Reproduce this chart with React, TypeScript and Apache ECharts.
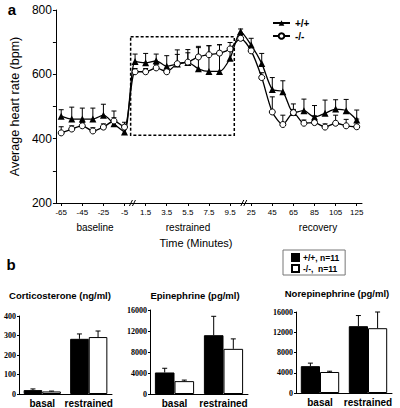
import React, { useEffect, useRef } from "react";
import * as echarts from "echarts";

// ---- Panel a: heart rate over time ----
const timeLabels = [
  "-65", "-55", "-45", "-35", "-25", "-15", "-5",
  "0.5", "1.5", "2.5", "3.5", "4.5", "5.5", "6.5", "7.5", "8.5", "9.5",
  "15", "25", "35", "45", "55", "65", "75", "85", "95", "105", "115", "125",
];
const wtHR = [
  470, 461, 461, 461, 473, 446, 421,
  640, 636, 642, 625, 632, 637, 617, 609, 609, 650,
  733, 691, 634, 553, 546, 481, 487, 467, 479, 492, 487, 458,
];
const wtHRErr = [
  20, 37, 34, 34, 34, 40, 20,
  23, 29, 21, 33, 30, 30, 70, 80, 83, 25,
  8, 21, 31, 37, 34, 27, 36, 36, 41, 29, 35, 31,
];
const koHR = [
  418, 430, 440, 424, 436, 455, 436,
  608, 608, 620, 608, 633, 638, 654, 661, 666, 679,
  712, 673, 590, 483, 444, 481, 448, 450, 436, 448, 440, 437,
];
const koHRErr = [
  19, 10, 10, 10, 10, 10, 15,
  10, 10, 10, 10, 43, 39, 29, 28, 26, 20,
  8, 10, 15, 47, 29, 10, 10, 21, 10, 25, 20, 24,
];
const hrTicks = { min: 200, max: 800, step: 100, labelStep: 200 };

// ---- Panel b: hormones ----
const conditions = ["basal", "restrained"];
const cortWT = [20, 283];
const cortWTErr = [6, 25];
const cortKO = [13, 292];
const cortKOErr = [2, 31];
const epiWT = [4100, 11200];
const epiWTErr = [800, 3600];
const epiKO = [2450, 8600];
const epiKOErr = [200, 1900];
const norWT = [5300, 13200];
const norWTErr = [600, 2100];
const norKO = [4150, 12800];
const norKOErr = [150, 3200];

const FONT = "Liberation Sans";
const SERIF = "Liberation Serif";

function errRender(offsetFrac: number, cap: number) {
  return (params: any, api: any) => {
    const x = api.value(0);
    const v = api.value(1);
    const e = api.value(2);
    const p0 = api.coord([x, v]);
    const p1 = api.coord([x, v + e]);
    const band = api.size([1, 0])[0];
    const cx = p0[0] + offsetFrac * band;
    return {
      type: "group",
      children: [
        { type: "line", shape: { x1: cx, y1: p0[1], x2: cx, y2: p1[1] }, style: { stroke: "#000", lineWidth: 1 } },
        { type: "line", shape: { x1: cx - cap, y1: p1[1], x2: cx + cap, y2: p1[1] }, style: { stroke: "#000", lineWidth: 1 } },
      ],
    };
  };
}

function txt(text: string, x: number, y: number, size: number, bold: boolean, align = "center") {
  return {
    type: "text",
    x,
    y,
    z: 100,
    style: {
      text,
      fill: "#000",
      font: `${bold ? "bold " : ""}${size}px ${FONT}`,
      fontSize: size,
      fontWeight: bold ? "bold" : "normal",
      fontFamily: FONT,
      align,
      textAlign: align,
      verticalAlign: "middle",
      textVerticalAlign: "middle",
    },
  };
}

export default function App() {
  const ref = useRef<HTMLDivElement>(null);
  useEffect(() => {
    if (!ref.current) return;
    const chart = echarts.init(ref.current, null, { renderer: "svg" });

    const barGrids = [
      { left: 19, top: 316, width: 93, height: 78, max: 400, interval: 100, wt: cortWT, wtE: cortWTErr, ko: cortKO, koE: cortKOErr },
      { left: 150, top: 310, width: 98, height: 84, max: 16000, interval: 4000, wt: epiWT, wtE: epiWTErr, ko: epiKO, koE: epiKOErr },
      { left: 296, top: 312, width: 96, height: 81, max: 16000, interval: 4000, wt: norWT, wtE: norWTErr, ko: norKO, koE: norKOErr },
    ];

    const grids: any[] = [{ left: 52, top: 10, right: 38, bottom: 205 }];
    const xAxes: any[] = [
      {
        type: "category",
        gridIndex: 0,
        data: timeLabels,
        boundaryGap: true,
        axisLine: { lineStyle: { color: "#000", width: 1 } },
        axisTick: { show: true, interval: 1, alignWithLabel: true, length: 3, lineStyle: { color: "#000" } },
        axisLabel: { interval: 1, fontSize: 8, color: "#000", fontFamily: FONT, margin: 5 },
      },
    ];
    const yAxes: any[] = [
      {
        type: "value",
        gridIndex: 0,
        min: hrTicks.min,
        max: hrTicks.max,
        interval: hrTicks.step,
        name: "Average heart rate (bpm)",
        nameLocation: "middle",
        nameGap: 33,
        nameTextStyle: { fontSize: 12.5, color: "#000", fontFamily: FONT },
        axisLine: { show: true, lineStyle: { color: "#000", width: 1 } },
        axisTick: { show: true, length: 3, lineStyle: { color: "#000" } },
        splitLine: { show: false },
        axisLabel: {
          fontSize: 12,
          color: "#000",
          fontFamily: FONT,
          margin: 4,
          formatter: (v: number) => (v % hrTicks.labelStep === 0 ? String(v) : ""),
        },
      },
    ];

    const series: any[] = [
      {
        type: "custom",
        name: "wtErr",
        xAxisIndex: 0,
        yAxisIndex: 0,
        z: 1,
        renderItem: errRender(0, 2.5),
        encode: { x: 0, y: 1 },
        data: wtHR.map((v, i) => [i, v, wtHRErr[i]]),
      },
      {
        type: "custom",
        name: "koErr",
        xAxisIndex: 0,
        yAxisIndex: 0,
        z: 1,
        renderItem: errRender(0, 2.5),
        encode: { x: 0, y: 1 },
        data: koHR.map((v, i) => [i, v, koHRErr[i]]),
      },
      {
        type: "line",
        name: "+/+",
        xAxisIndex: 0,
        yAxisIndex: 0,
        data: wtHR,
        smooth: 0.25,
        symbol: "triangle",
        symbolSize: 7,
        itemStyle: { color: "#000" },
        lineStyle: { color: "#000", width: 1.3 },
        z: 3,
      },
      {
        type: "line",
        name: "-/-",
        xAxisIndex: 0,
        yAxisIndex: 0,
        data: koHR,
        smooth: 0.25,
        symbol: "circle",
        symbolSize: 6,
        showAllSymbol: true,
        itemStyle: { color: "#fff", borderColor: "#000", borderWidth: 1 },
        lineStyle: { color: "#000", width: 1.3 },
        z: 4,
      },
    ];

    barGrids.forEach((g, k) => {
      const gi = k + 1;
      grids.push({ left: g.left, top: g.top, width: g.width, height: g.height });
      xAxes.push({
        type: "category",
        gridIndex: gi,
        data: conditions,
        axisLine: { lineStyle: { color: "#000", width: 1 } },
        axisTick: { show: false },
        axisLabel: { interval: 0, hideOverlap: false, fontSize: 10, fontWeight: "bold", color: "#000", fontFamily: FONT, margin: 4 },
      });
      yAxes.push({
        type: "value",
        gridIndex: gi,
        min: 0,
        max: g.max,
        interval: g.interval,
        axisLine: { show: true, lineStyle: { color: "#000", width: 1 } },
        axisTick: { show: true, length: 2, lineStyle: { color: "#000" } },
        splitLine: { show: false },
        axisLabel: {
          fontSize: 8,
          fontWeight: "bold",
          color: "#000",
          fontFamily: SERIF,
          margin: 3,
          formatter: (v: number) => String(v),
        },
      });
      series.push(
        {
          type: "bar",
          name: "+/+, n=11",
          xAxisIndex: gi,
          yAxisIndex: gi,
          data: g.wt,
          barGap: "0%",
          barCategoryGap: "20%",
          itemStyle: { color: "#000", borderColor: "#000", borderWidth: 1 },
        },
        {
          type: "bar",
          name: "-/-,  n=11",
          xAxisIndex: gi,
          yAxisIndex: gi,
          data: g.ko,
          barGap: "0%",
          barCategoryGap: "20%",
          itemStyle: { color: "#fff", borderColor: "#000", borderWidth: 1 },
        },
        {
          type: "custom",
          xAxisIndex: gi,
          yAxisIndex: gi,
          z: 3,
          renderItem: errRender(-0.2, 2.5),
          encode: { x: 0, y: 1 },
          data: g.wt.map((v, i) => [i, v, g.wtE[i]]),
        },
        {
          type: "custom",
          xAxisIndex: gi,
          yAxisIndex: gi,
          z: 3,
          renderItem: errRender(0.2, 2.5),
          encode: { x: 0, y: 1 },
          data: g.ko.map((v, i) => [i, v, g.koE[i]]),
        }
      );
    });

    const option: any = {
      animation: false,
      backgroundColor: "#fff",
      textStyle: { fontFamily: FONT },
      grid: grids,
      xAxis: xAxes,
      yAxis: yAxes,
      legend: [
        {
          data: ["+/+", "-/-"],
          orient: "vertical",
          left: 272,
          top: 18,
          itemWidth: 17,
          itemHeight: 7,
          itemGap: 3,
          padding: 0,
          textStyle: { fontSize: 10, fontWeight: "bold", color: "#000", fontFamily: FONT },
        },
        {
          data: ["+/+, n=11", "-/-,  n=11"],
          orient: "vertical",
          left: 283,
          top: 250,
          icon: "rect",
          itemWidth: 7,
          itemHeight: 7,
          itemGap: 2,
          padding: [3, 6, 2, 8],
          borderColor: "#777",
          borderWidth: 1,
          textStyle: { fontSize: 8.5, fontWeight: "bold", color: "#000", fontFamily: FONT, padding: [0, 0, 0, -1] },
        },
      ],
      series,
    };
    chart.setOption(option);

    // decorations computed from the axes
    const px = (i: number) => {
      const a = chart.convertToPixel({ xAxisIndex: 0 }, 0) as number;
      const b = chart.convertToPixel({ xAxisIndex: 0 }, 1) as number;
      return a + i * (b - a);
    };
    const py = (v: number) => chart.convertToPixel({ yAxisIndex: 0 }, v) as number;
    const yBase = py(hrTicks.min);
    const boxX1 = px(6.58);
    const boxX2 = px(16.4);
    const boxY1 = py(717);
    const boxY2 = py(411);

    const breakMark = (x: number) => ({
      type: "group",
      z: 50,
      children: [
        { type: "rect", shape: { x: x - 2, y: yBase - 1, width: 5, height: 2 }, style: { fill: "#fff" } },
        { type: "line", shape: { x1: x - 3, y1: yBase + 3, x2: x, y2: yBase - 3 }, style: { stroke: "#000", lineWidth: 1 } },
        { type: "line", shape: { x1: x, y1: yBase + 3, x2: x + 3, y2: yBase - 3 }, style: { stroke: "#000", lineWidth: 1 } },
      ],
    });

    chart.setOption({
      graphic: [
        {
          type: "rect",
          z: 10,
          shape: { x: boxX1, y: boxY1, width: boxX2 - boxX1, height: boxY2 - boxY1 },
          style: { fill: "none", stroke: "#000", lineWidth: 1.5, lineDash: [3, 2] },
        },
        breakMark(px(6.75)),
        breakMark(px(17.3)),
        txt("a", 12, 9, 15, true),
        txt("b", 11, 264, 15, true),
        txt("baseline", 95, 227, 10, false),
        txt("restrained", 188, 227, 10, false),
        txt("recovery", 318, 227, 10, false),
        txt("Time (Minutes)", 196, 243, 11, false),
        txt("Corticosterone (ng/ml)", 60, 295, 9.5, true),
        txt("Epinephrine (pg/ml)", 195, 295, 9.5, true),
        txt("Norepinephrine (pg/ml)", 337, 293, 9.5, true),
      ],
    });

    return () => chart.dispose();
  }, []);
  return <div ref={ref} style={{ position: "fixed", left: 0, top: 0, width: 400, height: 408 }} />;
}
